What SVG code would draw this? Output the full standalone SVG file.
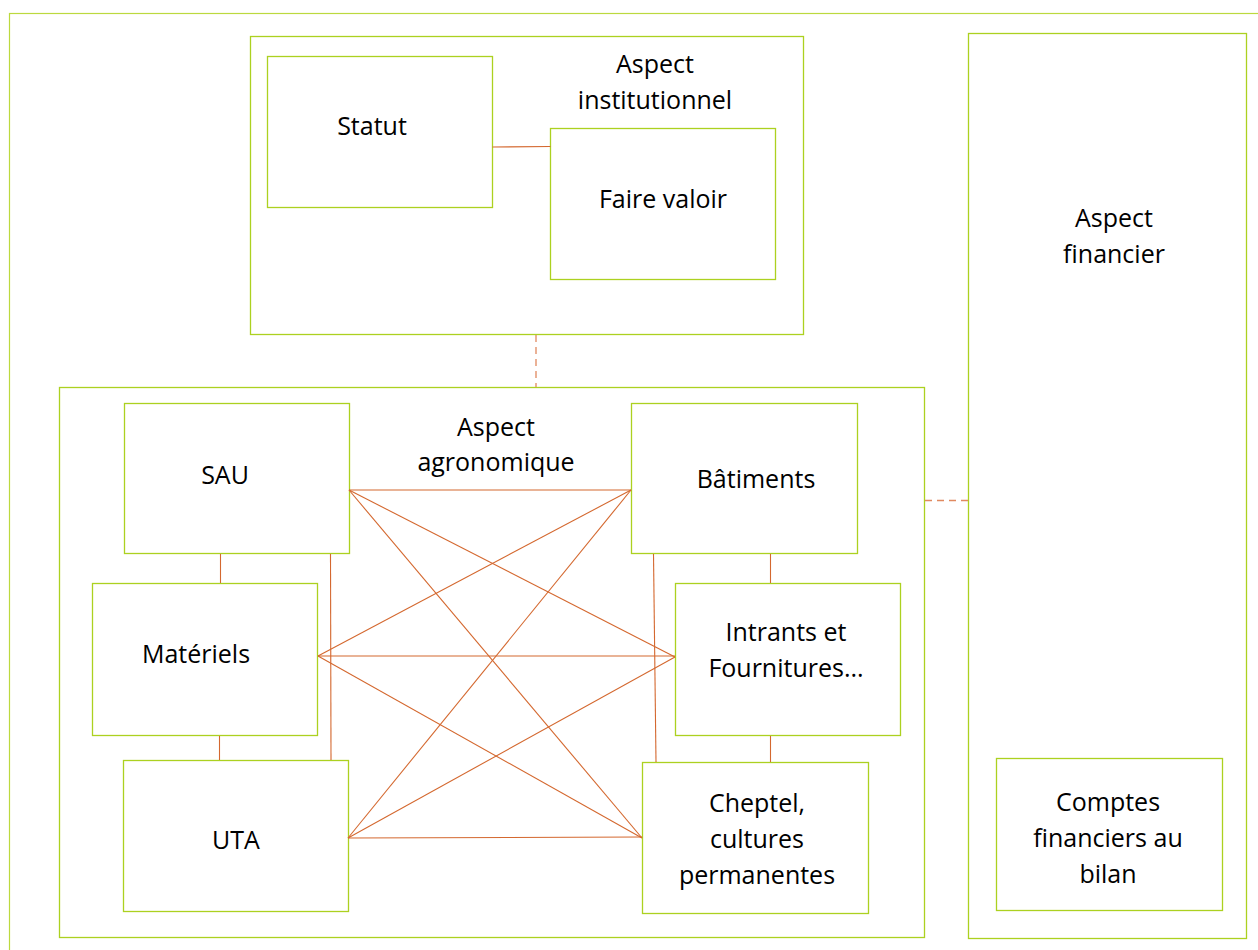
<svg xmlns="http://www.w3.org/2000/svg" width="1258" height="950" viewBox="0 0 1258 950">
<style>
.box{fill:#fff;stroke:#acd120;stroke-width:1.3}
.frame{fill:none;stroke:#bcd93e;stroke-width:1.2}
.ln{stroke:#d4682f;stroke-width:1.1;fill:none}
.dash{stroke:#e0895f;stroke-width:1.3;stroke-dasharray:7 5;fill:none}
text{font-family:"Open Sans","Liberation Sans",sans-serif;font-size:25px;fill:#000;text-anchor:middle}
</style>
<rect x="9.5" y="13.5" width="1270" height="960" class="frame"/>
<g id="financier">
<rect x="968.5" y="33.5" width="278" height="905" class="box"/>
<text x="1114" y="227">Aspect</text>
<text x="1114" y="263">financier</text>
</g>
<g id="comptes">
<rect x="996.5" y="758.5" width="226" height="152" class="box"/>
<text x="1108" y="811">Comptes</text>
<text x="1108" y="847">financiers au</text>
<text x="1108" y="883">bilan</text>
</g>
<g id="institutionnel">
<rect x="250.5" y="36.5" width="553" height="298" class="box"/>
<text x="655" y="73">Aspect</text>
<text x="655" y="109">institutionnel</text>
</g>
<g id="statut">
<rect x="267.5" y="56.5" width="225" height="151" class="box"/>
<text x="372" y="135">Statut</text>
</g>
<g id="fairevaloir">
<rect x="550.5" y="128.5" width="225" height="151" class="box"/>
<text x="663" y="208">Faire valoir</text>
</g>
<g id="agronomique">
<rect x="59.5" y="387.5" width="865" height="550" class="box"/>
<text x="496" y="436">Aspect</text>
<text x="496" y="471">agronomique</text>
</g>
<g id="sau">
<rect x="124.5" y="403.5" width="225" height="150" class="box"/>
<text x="225" y="484">SAU</text>
</g>
<g id="materiels">
<rect x="92.5" y="583.5" width="225" height="152" class="box"/>
<text x="196" y="663">Matériels</text>
</g>
<g id="uta">
<rect x="123.5" y="760.5" width="225" height="151" class="box"/>
<text x="236" y="849">UTA</text>
</g>
<g id="batiments">
<rect x="631.5" y="403.5" width="226" height="150" class="box"/>
<text x="756" y="488">Bâtiments</text>
</g>
<g id="intrants">
<rect x="675.5" y="583.5" width="225" height="152" class="box"/>
<text x="786" y="641">Intrants et</text>
<text x="786" y="677">Fournitures...</text>
</g>
<g id="cheptel">
<rect x="642.5" y="762.5" width="226" height="151" class="box"/>
<text x="757" y="812">Cheptel,</text>
<text x="757" y="848">cultures</text>
<text x="757" y="884">permanentes</text>
</g>
<g id="connectors">
<line x1="492.5" y1="147" x2="550.5" y2="146.5" class="ln"/>
<line x1="536" y1="335" x2="536" y2="387" class="dash"/>
<line x1="925" y1="500.5" x2="968" y2="500.5" class="dash"/>
<line x1="220.5" y1="554" x2="220.5" y2="583" class="ln"/>
<line x1="219.5" y1="736" x2="219.5" y2="760" class="ln"/>
<line x1="330.5" y1="554" x2="331" y2="760" class="ln"/>
<line x1="770.5" y1="554" x2="770.5" y2="583" class="ln"/>
<line x1="770.5" y1="736" x2="770.5" y2="762" class="ln"/>
<line x1="653.5" y1="554" x2="656" y2="762" class="ln"/>
<line x1="349" y1="490" x2="631" y2="490" class="ln"/>
<line x1="349" y1="490" x2="675" y2="657" class="ln"/>
<line x1="349" y1="490" x2="642" y2="838" class="ln"/>
<line x1="318" y1="656" x2="631" y2="490" class="ln"/>
<line x1="318" y1="656" x2="675" y2="656" class="ln"/>
<line x1="318" y1="656" x2="642" y2="838" class="ln"/>
<line x1="348" y1="838" x2="631" y2="490" class="ln"/>
<line x1="348" y1="838" x2="675" y2="657" class="ln"/>
<line x1="348" y1="838" x2="642" y2="837" class="ln"/>
</g>
</svg>
